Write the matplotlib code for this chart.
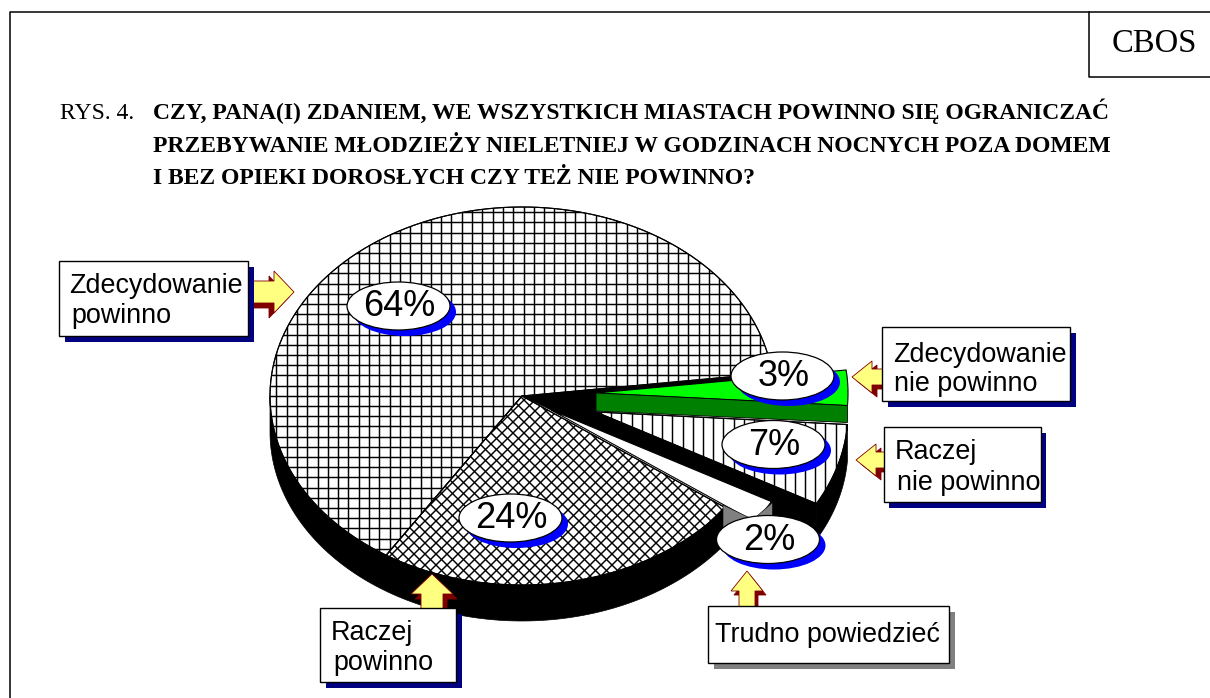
"""
CBOS figure 4: exploded 3D pie redrawn in pixel coordinates of the scan.
"""

import numpy as np
import matplotlib
matplotlib.use("Agg")
import matplotlib.pyplot as plt
from matplotlib.collections import LineCollection
from matplotlib.patches import Ellipse, Polygon, Rectangle

SERIF = "Liberation Serif"
SANS = "Liberation Sans"

RYS_LABEL = "RYS. 4."
TITLE_LINES = [
    "CZY, PANA(I) ZDANIEM, WE WSZYSTKICH MIASTACH POWINNO SIĘ OGRANICZAĆ",
    "PRZEBYWANIE MŁODZIEŻY NIELETNIEJ W GODZINACH NOCNYCH POZA DOMEM",
    "I BEZ OPIEKI DOROSŁYCH CZY TEŻ NIE POWINNO?",
]

# slices go counterclockwise from the start angle
VALUES = [64, 24, 2, 7, 3]
PCT_LABELS = ["64%", "24%", "2%", "7%", "3%"]
BOX_TEXT = [
    ["Zdecydowanie", "powinno"],
    ["Raczej", "powinno"],
    ["Trudno powiedzieć"],
    ["Raczej", "nie powinno"],
    ["Zdecydowanie", "nie powinno"],
]

START_ANGLE = 7.0
RX, RY = 252, 189
DEPTH = 36
CENTERS = [(522, 396), (522, 396), (551, 410), (596, 412), (596, 393)]

YELLOW = "#FFFF80"
DARK_RED = "#800000"
NAVY = "#000080"
BLUE = "#0000FF"
LW = 0.8


def arc(center, a0, a1, n=120):
    t = np.radians(np.linspace(a0, a1, n))
    return np.column_stack([center[0] + RX * np.cos(t), center[1] - RY * np.sin(t)])


def wedge(ax, center, a0, a1, z, fc="white", lw=LW):
    pts = np.vstack([[center], arc(center, a0, a1)])
    p = Polygon(pts, closed=True, fc=fc, ec="black", lw=lw, zorder=z)
    ax.add_patch(p)
    return p


def wall(ax, center, a0, a1, z):
    top = arc(center, a0, a1)
    low = top[::-1] + [0, DEPTH]
    ax.add_patch(Polygon(np.vstack([top, low]), closed=True, fc="black", ec="black", lw=0.5, zorder=z))


def clipped_lines(ax, segs, clip, z):
    lc = LineCollection(segs, colors="black", linewidths=1.05, zorder=z)
    ax.add_collection(lc)
    lc.set_clip_path(clip)


def arrow(ax, tip, direction, head, shaft, shade, z=6):
    # block arrow, shape given as (along, across) offsets behind the tip
    shape = [(0, 0), (20, -head), (20, -shaft), (58, -shaft), (58, shaft), (20, shaft), (20, head)]
    dx, dy = direction
    pts = np.array([(tip[0] - a * dx - c * dy, tip[1] - a * dy + c * dx) for a, c in shape])
    ax.add_patch(Polygon(pts + shade, closed=True, fc=DARK_RED, ec=DARK_RED, lw=0.6, zorder=z))
    ax.add_patch(Polygon(pts, closed=True, fc=YELLOW, ec=DARK_RED, lw=0.6, zorder=z + 0.1))


def label_box(ax, x0, y0, x1, y1, lines, shadow=NAVY, off=(6, 6)):
    ax.add_patch(Rectangle((x0 + off[0], y0 + off[1]), x1 - x0, y1 - y0, fc=shadow, ec="none", zorder=8))
    ax.add_patch(Rectangle((x0, y0), x1 - x0, y1 - y0, fc="white", ec="black", lw=1.0, zorder=9))
    for tx, ty, s in lines:
        ax.text(tx, ty, s, family=SANS, fontsize=19.4, va="baseline", ha="left", color="black", zorder=10)


def pct_bubble(ax, cx, cy, s):
    ax.add_patch(Ellipse((cx + 6, cy + 6), 103, 48, fc=BLUE, ec="none", zorder=11))
    ax.add_patch(Ellipse((cx, cy), 103, 48, fc="white", ec="black", lw=0.9, zorder=12))
    ax.text(cx + 1, cy + 1, s, family=SANS, fontsize=26, ha="center", va="center", color="black", zorder=13)


def main():
    fig = plt.figure(figsize=(12.10, 6.98), dpi=100)
    ax = fig.add_axes([0, 0, 1, 1])
    ax.set_xlim(0, 1210)
    ax.set_ylim(698, 0)
    ax.axis("off")

    # page frame and CBOS tag
    ax.plot([10, 10, 1210], [698, 12, 12], color="black", lw=1.1, zorder=1)
    ax.plot([1089, 1089, 1210], [12, 77, 77], color="black", lw=1.1, zorder=1)
    ax.text(1154.5, 44, "CBOS", family=SERIF, fontsize=23.5, ha="center", va="center")

    ax.text(60, 119, RYS_LABEL, family=SERIF, fontsize=17, va="baseline")
    for y, line in zip([119, 151.5, 184], TITLE_LINES):
        ax.text(153, y, line, family=SERIF, fontsize=17, fontweight="bold", va="baseline")

    # slice angles from the values
    edges = START_ANGLE + np.cumsum([0] + VALUES) * 3.6
    ang = list(zip(edges[:-1], edges[1:]))

    # black sides of the pie and of the cut faces
    wall(ax, CENTERS[0], 180, ang[1][1], 2)
    wall(ax, CENTERS[3], ang[3][0], ang[3][1], 2)
    e7 = arc(CENTERS[3], ang[3][0], ang[3][0], 1)[0]
    e0 = arc(CENTERS[0], ang[0][0], ang[0][0], 1)[0]
    ax.add_patch(Polygon(
        [CENTERS[0], e0, (800, 374.5), CENTERS[4], CENTERS[3], e7, e7 + [0, DEPTH], (757, 530), (757, 515), CENTERS[2]],
        closed=True, fc="black", ec="black", lw=0.5, zorder=2))

    # 64 %: square grid
    p = wedge(ax, CENTERS[0], *ang[0], 3)
    xs = np.arange(266, 790, 10.3)
    ys = np.arange(200, 560, 10.2) + 2
    segs = [[(x, 200), (x, 560)] for x in xs] + [[(260, y), (780, y)] for y in ys]
    clipped_lines(ax, segs, p, 3.1)
    wedge(ax, CENTERS[0], *ang[0], 3.2, fc="none")

    # 24 %: diagonal cross
    p = wedge(ax, CENTERS[1], *ang[1], 3)
    cs = np.arange(0, 1500, 11.0)
    segs = [[(c, 0), (0, c)] for c in cs] + [[(c - 800, 0), (c - 100, 700)] for c in cs]
    clipped_lines(ax, segs, p, 3.1)
    wedge(ax, CENTERS[1], *ang[1], 3.2, fc="none")

    # 7 %: vertical lines
    p = wedge(ax, CENTERS[3], *ang[3], 3)
    segs = [[(x, 400), (x, 520)] for x in np.arange(601, 850, 10.2)]
    clipped_lines(ax, segs, p, 3.1)
    wedge(ax, CENTERS[3], *ang[3], 3.2, fc="none")

    # 2 %: white slice with grey cut faces
    wedge(ax, CENTERS[2], *ang[2], 3.3)
    ax.add_patch(Polygon([(723, 505), (750, 518), (723, 528)], closed=True, fc="#808080", ec="black", lw=0.4, zorder=3.4))
    ax.add_patch(Polygon([(772, 502), (772, 516), (756, 516)], closed=True, fc="#808080", ec="black", lw=0.4, zorder=3.4))

    # 3 %: green slice and its dark side
    wedge(ax, CENTERS[4], *ang[4], 4, fc="#00FF00")
    e3 = arc(CENTERS[4], ang[4][0], ang[4][0], 1)[0]
    ax.add_patch(Polygon([CENTERS[4], e3, e3 + [0, 17], np.add(CENTERS[4], [0, 18])],
                         closed=True, fc="#008000", ec="black", lw=0.6, zorder=4.1))

    # arrows
    arrow(ax, (294, 292), (1, 0), 21, 11, (-5, 5))
    arrow(ax, (432, 574), (0, -1), 21, 11, (4, 5))
    arrow(ax, (747, 571), (0, -1), 16, 8, (3, 4))
    arrow(ax, (856, 460), (-1, 0), 16, 8, (5, 4))
    arrow(ax, (852, 377), (-1, 0), 16, 8, (5, 4))

    # label boxes
    label_box(ax, 59, 261, 248, 336, [(69, 293, BOX_TEXT[0][0]), (71, 323, BOX_TEXT[0][1])])
    label_box(ax, 320, 608, 456, 682, [(331, 640, BOX_TEXT[1][0]), (333, 670, BOX_TEXT[1][1])])
    label_box(ax, 708, 606, 949, 663, [(715, 642, BOX_TEXT[2][0])], shadow="#808080")
    label_box(ax, 884, 427, 1041, 502, [(895, 459, BOX_TEXT[3][0]), (897, 490, BOX_TEXT[3][1])], off=(5, 6))
    label_box(ax, 882, 327, 1070, 401, [(893, 362, BOX_TEXT[4][0]), (894, 391, BOX_TEXT[4][1])])

    # percent bubbles
    for (cx, cy), s in zip([(398.5, 306), (510.5, 518), (768, 539.5), (773.5, 444.5), (782.5, 376)], PCT_LABELS):
        pct_bubble(ax, cx, cy, s)

    fig.savefig("out.png", dpi=100)


if __name__ == "__main__":
    main()
